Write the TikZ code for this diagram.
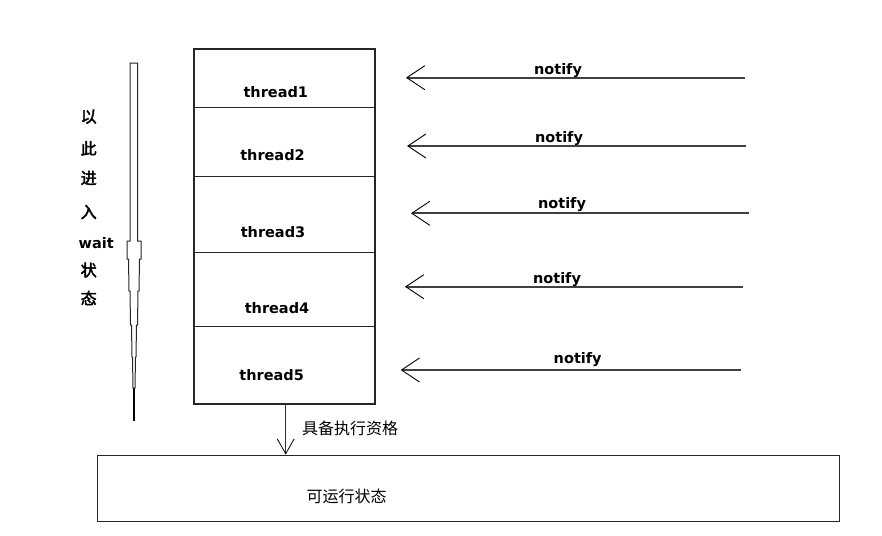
\documentclass[tikz,border=0pt]{standalone}
\usepackage{fontspec}
\setmainfont{DejaVu Sans}
\newfontfamily\cjk{Noto Sans CJK SC}
\newfontfamily\cjkb[FakeBold=2.5]{Noto Sans CJK SC}
\usetikzlibrary{arrows.meta}
\begin{document}
\begin{tikzpicture}[x=1pt,y=-1pt,
  cell/.style={draw=black!85,line width=1.2pt,minimum width=181pt,inner sep=0pt},
  tlbl/.style={font=\fontsize{14.5}{16}\selectfont\bfseries,inner sep=0pt,text=black},
  nlbl/.style={font=\fontsize{14.5}{16}\selectfont\bfseries,inner sep=0pt,text=black},
  clbl/.style={font=\fontsize{16}{18}\selectfont\cjk,inner sep=0pt,text=black},
  vlbl/.style={font=\fontsize{16}{18}\selectfont\cjkb,inner sep=0pt,text=black,anchor=west},
  wlbl/.style={font=\fontsize{14.5}{16}\selectfont\bfseries,inner sep=0pt,text=black,anchor=west},
  narr/.style={draw=black!75,line width=1.8pt,-{Straight Barb[length=18pt,width=24pt,line width=0.9pt,color=black]}},
  darr/.style={draw=black!80,line width=1pt,-{Straight Barb[length=15pt,width=17pt,line width=0.8pt,color=black]}},
  runbox/.style={draw=black!85,line width=1.4pt,minimum width=742pt,minimum height=66.4pt,inner sep=0pt}]
\useasboundingbox (0,0) rectangle (882,535);
% stack of thread cells
\node[cell,minimum height=58.7pt] (c1) at (284.5,78.35) {};
\node[cell,minimum height=69pt]   (c2) at (284.5,142.2) {};
\node[cell,minimum height=76pt]   (c3) at (284.5,214.7) {};
\node[cell,minimum height=74pt]   (c4) at (284.5,289.7) {};
\node[cell,minimum height=77.3pt] (c5) at (284.5,365.35) {};
\node[tlbl] (t1) at (275.8,91.7) {thread1};
\node[tlbl] (t2) at (272.5,155) {thread2};
\node[tlbl] (t3) at (273,232) {thread3};
\node[tlbl] (t4) at (277,308) {thread4};
\node[tlbl] (t5) at (271.7,375) {thread5};
% notify arrows
\coordinate (s1) at (745,77.7); \coordinate (e1) at (406,77.7);
\coordinate (s2) at (746,146);  \coordinate (e2) at (407,146);
\coordinate (s3) at (749,213.3); \coordinate (e3) at (411,213.3);
\coordinate (s4) at (743,286.7); \coordinate (e4) at (405,286.7);
\coordinate (s5) at (741,370);  \coordinate (e5) at (400.7,370);
\draw[narr] (s1) -- (e1);
\draw[narr] (s2) -- (e2);
\draw[narr] (s3) -- (e3);
\draw[narr] (s4) -- (e4);
\draw[narr] (s5) -- (e5);
\node[nlbl] (n1) at (558,71) {notify};
\node[nlbl] (n2) at (559,138.3) {notify};
\node[nlbl] (n3) at (562,205) {notify};
\node[nlbl] (n4) at (557,279.3) {notify};
\node[nlbl] (n5) at (577.7,360) {notify};
% runnable box
\node[runbox] (run) at (468.3,488.5) {};
\node[clbl] (runlbl) at (346.7,496.7) {可运行状态};
\coordinate (dx) at (285.7,0);
\draw[darr] (c5.south -| dx) -- (run.north -| dx);
\node[clbl] (qual) at (350,428.3) {具备执行资格};
% left tapered bar
\draw[black!85,line width=1pt,line join=miter]
  (130,63) -- (137.5,63) -- (137.5,241) -- (141,241) -- (141,259)
  -- (139.5,259) -- (139,291) -- (138,291) -- (137.5,325) -- (136.5,325)
  -- (136,357) -- (135.5,357) -- (135,388) -- (133,388) -- (132.5,357)
  -- (132,357) -- (131.5,325) -- (130.5,325) -- (130,291) -- (129,291)
  -- (128.5,259) -- (127,259) -- (127,241) -- (130,241) -- cycle;
\draw[black,line width=2pt] (134,388) -- (134,421);
% vertical label
\node[vlbl] (v1) at (80.5,116.7) {以};
\node[vlbl] (v2) at (80.5,148.3) {此};
\node[vlbl] (v3) at (80.5,178) {进};
\node[vlbl] (v4) at (80.5,212) {入};
\node[wlbl] (v5) at (78.5,242.7) {wait};
\node[vlbl] (v6) at (80.5,270) {状};
\node[vlbl] (v7) at (80.5,298) {态};
\end{tikzpicture}
\end{document}
